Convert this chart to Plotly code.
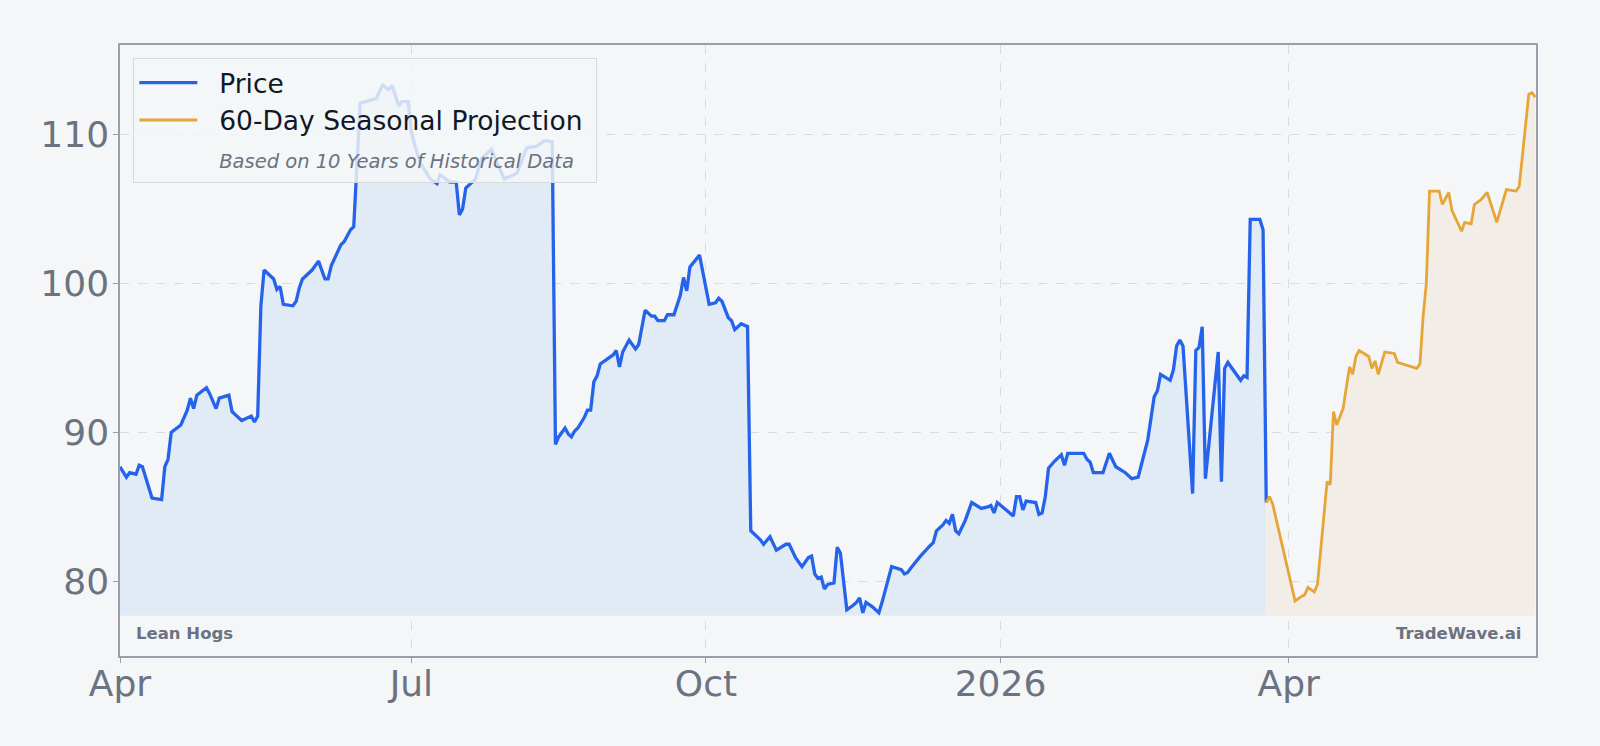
import plotly.graph_objects as go

# ---------------- data ----------------
price_dates = [
    "2025-04-01", "2025-04-03", "2025-04-04", "2025-04-06", "2025-04-07", "2025-04-08", "2025-04-09",
    "2025-04-11", "2025-04-14", "2025-04-15", "2025-04-16", "2025-04-17", "2025-04-20", "2025-04-22",
    "2025-04-23", "2025-04-24", "2025-04-25", "2025-04-28", "2025-04-29", "2025-05-01", "2025-05-02",
    "2025-05-05", "2025-05-06", "2025-05-08", "2025-05-09", "2025-05-12", "2025-05-13", "2025-05-14",
    "2025-05-15", "2025-05-16", "2025-05-19", "2025-05-20", "2025-05-21", "2025-05-22", "2025-05-25",
    "2025-05-26", "2025-05-27", "2025-05-28", "2025-05-31", "2025-06-02", "2025-06-04", "2025-06-05",
    "2025-06-06", "2025-06-09", "2025-06-10", "2025-06-12", "2025-06-13", "2025-06-15", "2025-06-17",
    "2025-06-20", "2025-06-22", "2025-06-24", "2025-06-25", "2025-06-27", "2025-06-28", "2025-06-30",
    "2025-07-01", "2025-07-02", "2025-07-04", "2025-07-07", "2025-07-09", "2025-07-10", "2025-07-13",
    "2025-07-15", "2025-07-16", "2025-07-17", "2025-07-18", "2025-07-21", "2025-07-23", "2025-07-26",
    "2025-07-30", "2025-08-03", "2025-08-06", "2025-08-09", "2025-08-11", "2025-08-12", "2025-08-14",
    "2025-08-15", "2025-08-16", "2025-08-18", "2025-08-19", "2025-08-20", "2025-08-21", "2025-08-22",
    "2025-08-24", "2025-08-25", "2025-08-26", "2025-08-27", "2025-08-28", "2025-08-29", "2025-09-02",
    "2025-09-03", "2025-09-04", "2025-09-05", "2025-09-07", "2025-09-09", "2025-09-10", "2025-09-12",
    "2025-09-14", "2025-09-15", "2025-09-16", "2025-09-18", "2025-09-19", "2025-09-21", "2025-09-23",
    "2025-09-24", "2025-09-25", "2025-09-26", "2025-09-29", "2025-10-02", "2025-10-04", "2025-10-05",
    "2025-10-06", "2025-10-08", "2025-10-09", "2025-10-10", "2025-10-12", "2025-10-14", "2025-10-15",
    "2025-10-16", "2025-10-18", "2025-10-19", "2025-10-21", "2025-10-23", "2025-10-25", "2025-10-26",
    "2025-10-27", "2025-10-29", "2025-10-31", "2025-11-02", "2025-11-03", "2025-11-04", "2025-11-05",
    "2025-11-06", "2025-11-07", "2025-11-08", "2025-11-10", "2025-11-11", "2025-11-12", "2025-11-14",
    "2025-11-16", "2025-11-17", "2025-11-18", "2025-11-19", "2025-11-20", "2025-11-22", "2025-11-24",
    "2025-11-25", "2025-11-28", "2025-12-01", "2025-12-02", "2025-12-03", "2025-12-04", "2025-12-07",
    "2025-12-10", "2025-12-11", "2025-12-12", "2025-12-14", "2025-12-15", "2025-12-16", "2025-12-17",
    "2025-12-18", "2025-12-19", "2025-12-21", "2025-12-23", "2025-12-25", "2025-12-26", "2025-12-28",
    "2025-12-29", "2025-12-30", "2025-12-31", "2026-01-05", "2026-01-06", "2026-01-07", "2026-01-08",
    "2026-01-09", "2026-01-12", "2026-01-13", "2026-01-14", "2026-01-15", "2026-01-16", "2026-01-18",
    "2026-01-20", "2026-01-21", "2026-01-22", "2026-01-27", "2026-01-28", "2026-01-29", "2026-01-30",
    "2026-02-02", "2026-02-04", "2026-02-06", "2026-02-09", "2026-02-11", "2026-02-13", "2026-02-16",
    "2026-02-18", "2026-02-19", "2026-02-20", "2026-02-23", "2026-02-24", "2026-02-25", "2026-02-26",
    "2026-02-27", "2026-03-02", "2026-03-03", "2026-03-04", "2026-03-05", "2026-03-06", "2026-03-10",
    "2026-03-11", "2026-03-12", "2026-03-13", "2026-03-17", "2026-03-18", "2026-03-19", "2026-03-20",
    "2026-03-23", "2026-03-24", "2026-03-25",
]
price_values = [
    87.7, 87.0, 87.3, 87.2, 87.8, 87.7, 87.0,
    85.6, 85.5, 87.7, 88.2, 90.0, 90.5, 91.5,
    92.3, 91.6, 92.5, 93.0, 92.6, 91.6, 92.3,
    92.5, 91.4, 91.0, 90.8, 91.1, 90.7, 91.1,
    98.5, 100.9, 100.3, 99.6, 99.8, 98.6, 98.5,
    98.8, 99.7, 100.3, 100.9, 101.5, 100.3, 100.3,
    101.2, 102.6, 102.8, 103.6, 103.8, 112.1, 112.2,
    112.4, 113.3, 113.0, 113.3, 111.9, 112.2, 112.2,
    110.2, 109.3, 108.0, 107.0, 106.7, 107.3, 106.8,
    106.8, 104.6, 105.0, 106.4, 107.0, 108.4, 109.0,
    107.0, 107.4, 109.1, 109.2, 109.5, 109.6, 109.5,
    89.2, 89.7, 90.3, 89.9, 89.7, 90.1, 90.3,
    91.0, 91.5, 91.5, 93.4, 93.8, 94.6, 95.2,
    95.5, 94.4, 95.4, 96.2, 95.6, 95.9, 98.2,
    97.8, 97.8, 97.5, 97.5, 97.9, 97.9, 99.2,
    100.4, 99.5, 101.1, 101.9, 98.6, 98.7, 99.0,
    98.8, 97.7, 97.5, 96.9, 97.3, 97.1, 83.4,
    83.2, 82.8, 82.5, 83.0, 82.1, 82.4, 82.5,
    82.5, 81.6, 81.0, 81.6, 81.7, 80.5, 80.2,
    80.3, 79.5, 79.8, 79.9, 82.3, 81.9, 78.1,
    78.4, 78.6, 78.9, 77.9, 78.6, 78.3, 77.9,
    78.6, 81.0, 80.8, 80.5, 80.6, 80.9, 81.7,
    82.4, 82.6, 83.4, 83.8, 84.1, 83.9, 84.5,
    83.4, 83.2, 84.1, 85.3, 85.0, 84.9, 85.0,
    85.1, 84.6, 85.3, 84.4, 85.7, 85.7, 84.8,
    85.4, 85.3, 84.5, 84.6, 85.7, 87.6, 88.1,
    88.5, 87.8, 88.6, 88.6, 88.2, 88.0, 87.3,
    87.3, 88.6, 87.7, 87.3, 86.9, 87.0, 89.5,
    92.4, 92.8, 93.9, 93.5, 94.2, 95.8, 96.2,
    95.8, 85.9, 95.5, 95.7, 97.1, 86.9, 95.4,
    86.7, 94.3, 94.7, 93.5, 93.8, 93.7, 104.3,
    104.3, 103.6, 85.3,
]

proj_dates = [
    "2026-03-25", "2026-03-26", "2026-03-27", "2026-04-03", "2026-04-05", "2026-04-06", "2026-04-07",
    "2026-04-09", "2026-04-10", "2026-04-13", "2026-04-14", "2026-04-15", "2026-04-16", "2026-04-18",
    "2026-04-20", "2026-04-21", "2026-04-22", "2026-04-23", "2026-04-26", "2026-04-27", "2026-04-28",
    "2026-04-29", "2026-05-01", "2026-05-04", "2026-05-05", "2026-05-08", "2026-05-11", "2026-05-12",
    "2026-05-13", "2026-05-14", "2026-05-15", "2026-05-18", "2026-05-19", "2026-05-21", "2026-05-22",
    "2026-05-25", "2026-05-26", "2026-05-28", "2026-05-29", "2026-05-31", "2026-06-02", "2026-06-05",
    "2026-06-08", "2026-06-11", "2026-06-12", "2026-06-15", "2026-06-16", "2026-06-17",
]
proj_values = [
    85.3, 85.7, 85.2, 78.7, 79.0, 79.1, 79.6,
    79.3, 79.8, 86.7, 86.5, 91.4, 90.5, 91.6,
    94.4, 93.9, 95.1, 95.5, 95.1, 94.3, 94.8,
    93.9, 95.4, 95.3, 94.7, 94.5, 94.3, 94.6,
    97.8, 100.0, 106.2, 106.2, 105.3, 106.1, 104.9,
    103.5, 104.1, 104.0, 105.3, 105.6, 106.1, 104.1,
    106.3, 106.2, 106.5, 112.7, 112.8, 112.5,
]

FILL_BASE = 77.7
x_range = ["2025-04-01", "2026-06-17 06:00"]
y_range = [75, 116]
y_ticks = [80, 90, 100, 110]
x_tickvals = ["2025-04-01", "2025-07-01", "2025-10-01", "2026-01-01", "2026-04-01"]
x_ticktext = ["Apr", "Jul", "Oct", "2026", "Apr"]

PRICE_NAME = "Price"
PROJ_NAME = "60-Day Seasonal Projection"
NOTE_NAME = "Based on 10 Years of Historical Data"
LEFT_LABEL = "Lean Hogs"
RIGHT_LABEL = "TradeWave.ai"

# ---------------- styling ----------------
BG = "#f4f6f8"
BLUE = "#2563eb"
ORANGE = "#e6a537"
GRAY = "#6b7280"
FONT = "DejaVu Sans"
PAD = "\u00a0\u00a0"

fig = go.Figure()

# price fill
fig.add_trace(go.Scatter(x=price_dates, y=[FILL_BASE] * len(price_dates), mode="lines",
                         line=dict(width=0), showlegend=False, hoverinfo="skip"))
fig.add_trace(go.Scatter(x=price_dates, y=price_values, mode="lines", fill="tonexty",
                         fillcolor="#e1ebf6", line=dict(width=0),
                         showlegend=False, hoverinfo="skip"))
# projection fill
fig.add_trace(go.Scatter(x=proj_dates, y=[FILL_BASE] * len(proj_dates), mode="lines",
                         line=dict(width=0), showlegend=False, hoverinfo="skip"))
fig.add_trace(go.Scatter(x=proj_dates, y=proj_values, mode="lines", fill="tonexty",
                         fillcolor="#f2eee7", line=dict(width=0),
                         showlegend=False, hoverinfo="skip"))

# lines
fig.add_trace(go.Scatter(x=price_dates, y=price_values, mode="lines", name=PAD + PRICE_NAME,
                         line=dict(color=BLUE, width=3.3), legendgroup="a"))
fig.add_trace(go.Scatter(x=proj_dates, y=proj_values, mode="lines",
                         name=PAD + PROJ_NAME + "\u00a0",
                         line=dict(color=ORANGE, width=2.8), legendgroup="b"))
fig.add_trace(go.Scatter(x=[None], y=[None], mode="lines",
                         name=f"{PAD}<span style='font-size:19.5px;color:{GRAY}'><i>{NOTE_NAME}</i></span>",
                         line=dict(color="rgba(0,0,0,0)", width=0), legendgroup="c"))

fig.add_annotation(x=0.0101, y=0.0365, xref="paper", yref="paper", text=f"<b>{LEFT_LABEL}</b>",
                   showarrow=False, xanchor="left", yanchor="middle",
                   font=dict(family=FONT, size=16.5, color=GRAY))
fig.add_annotation(x=0.9905, y=0.0365, xref="paper", yref="paper", text=f"<b>{RIGHT_LABEL}</b>",
                   showarrow=False, xanchor="right", yanchor="middle",
                   font=dict(family=FONT, size=16.5, color=GRAY))

axis_line = "#9a9fac"
grid = "#d8dbe0"
fig.update_layout(
    width=1600, height=746,
    margin=dict(l=120, r=64, t=45, b=90),
    paper_bgcolor=BG, plot_bgcolor=BG,
    font=dict(family=FONT, color=GRAY),
    legend=dict(x=0.0094, y=0.979, xanchor="left", yanchor="top",
                bgcolor="rgba(244,246,248,0.82)", bordercolor="#d6d9de", borderwidth=1,
                font=dict(family=FONT, size=26.5, color="#111827"),
                itemwidth=58, tracegroupgap=0),
    xaxis=dict(type="date", range=x_range, tickvals=x_tickvals, ticktext=x_ticktext,
               showgrid=True, gridcolor=grid, griddash="dash", gridwidth=1,
               showline=True, linecolor=axis_line, linewidth=1.5, mirror=True,
               ticks="outside", ticklen=5, tickcolor=axis_line, ticklabelstandoff=-10,
               tickfont=dict(family=FONT, size=36, color=GRAY), zeroline=False),
    yaxis=dict(range=y_range, tickvals=y_ticks,
               showgrid=True, gridcolor=grid, griddash="dash", gridwidth=1,
               showline=True, linecolor=axis_line, linewidth=1.5, mirror=True,
               ticks="outside", ticklen=5, tickcolor=axis_line, ticklabelstandoff=-3,
               tickfont=dict(family=FONT, size=36, color=GRAY), zeroline=False),
)

fig.write_html("out.html")
